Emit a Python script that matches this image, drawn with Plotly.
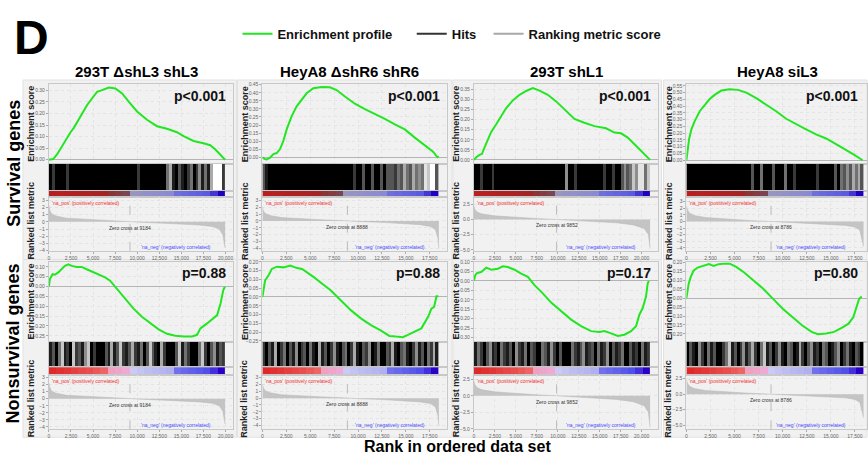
import plotly.graph_objects as go

W, H = 868, 459
FONT = "Liberation Sans"

# ---------------- data ----------------
col_titles = ["293T ΔshL3 shL3", "HeyA8 ΔshR6 shR6", "293T shL1", "HeyA8 siL3"]
row_titles = ["Survival genes", "Nonsurvival genes"]
n_genes = [19950, 18450, 21000, 18390]
zero_cross = [9184, 8888, 9852, 8786]
p_survival = ["p<0.001", "p<0.001", "p<0.001", "p<0.001"]
p_nonsurvival = ["p=0.88", "p=0.88", "p=0.17", "p=0.80"]
x_tick_vals = [0, 2500, 5000, 7500, 10000, 12500, 15000, 17500, 20000]
legend_names = ["Enrichment profile", "Hits", "Ranking metric score"]

# enrichment profiles, survival genes
es_x_s1 = [0, 490, 940, 1390, 1880, 2450, 2824, 3390, 3766, 4330, 4900, 5460, 6025, 6780, 7530, 8290, 9040, 9980,
           11110, 12240, 13370, 14500, 15250, 16380, 17510, 18270, 18830, 19400, 19950]
es_y_s1 = [0, 0.003, 0.024, 0.053, 0.081, 0.119, 0.138, 0.173, 0.202, 0.237, 0.266, 0.294, 0.301, 0.3125, 0.308,
           0.287, 0.251, 0.209, 0.173, 0.145, 0.134, 0.119, 0.102, 0.081, 0.071, 0.0625, 0.045, 0.020, 0.0]
es_x_s2 = [0, 209, 452, 800, 1148, 1496, 1844, 2192, 2540, 3062, 3583, 4105, 4627, 5323, 6193, 7063, 7758, 8628,
           9672, 10716, 11760, 12803, 13847, 14890, 15934, 16977, 17847, 18300, 18450]
es_y_s2 = [0, -0.010, -0.014, -0.002, 0.020, 0.026, 0.051, 0.102, 0.173, 0.255, 0.316, 0.356, 0.397, 0.428, 0.436,
           0.434, 0.417, 0.377, 0.332, 0.299, 0.271, 0.238, 0.204, 0.173, 0.122, 0.075, 0.035, 0.0, 0.006]
es_x_s3 = [0, 278, 675, 952, 1270, 1667, 2063, 2659, 3254, 3849, 4643, 5436, 6230, 7023, 7817, 8809, 9801, 10793,
           11984, 13174, 14365, 15753, 16745, 17539, 18333, 19325, 20317, 21000]
es_y_s3 = [0, 0.013, 0.025, 0.029, 0.062, 0.103, 0.139, 0.177, 0.221, 0.258, 0.296, 0.324, 0.343, 0.357, 0.345,
           0.324, 0.291, 0.250, 0.204, 0.185, 0.168, 0.157, 0.136, 0.132, 0.111, 0.070, 0.029, 0.0]
es_x_s4 = [0, 104, 276, 518, 863, 1381, 1899, 2416, 2934, 3625, 4488, 5351, 6214, 7249, 8285, 9320, 10356, 11392,
           12427, 13463, 14498, 15534, 16570, 17433, 18300]
es_y_s4 = [0, 0.058, 0.156, 0.229, 0.290, 0.363, 0.411, 0.453, 0.484, 0.516, 0.526, 0.521, 0.501, 0.460, 0.411,
           0.363, 0.307, 0.265, 0.229, 0.192, 0.161, 0.119, 0.078, 0.039, 0.0]

# enrichment profiles, nonsurvival genes
es_x_n1 = [0, 114, 417, 682, 1060, 1439, 1818, 2197, 2576, 3144, 3712, 4280, 5038, 5795, 6364, 6932, 7690, 8637,
           9584, 10531, 11478, 12425, 13371, 14318, 15265, 16212, 16780, 17159, 17917, 18485, 19053, 19432, 19735,
           19924]
es_y_n1 = [0, 0.038, 0.063, 0.060, 0.072, 0.088, 0.105, 0.113, 0.105, 0.100, 0.100, 0.088, 0.072, 0.055, 0.047,
           0.030, -0.012, -0.062, -0.112, -0.153, -0.187, -0.217, -0.240, -0.250, -0.253, -0.253, -0.245, -0.212,
           -0.187, -0.167, -0.145, -0.087, -0.020, 0.0]
es_x_n2 = [0, 105, 281, 632, 984, 1511, 2214, 2917, 3620, 4147, 4674, 5377, 6255, 7134, 8188, 9242, 10296, 11351,
           12405, 13283, 13986, 14689, 15216, 15919, 16622, 17324, 17676, 17957, 18203, 18400]
es_y_n2 = [0, 0.047, 0.094, 0.122, 0.160, 0.173, 0.169, 0.179, 0.165, 0.160, 0.141, 0.113, 0.075, 0.038, -0.019,
           -0.075, -0.122, -0.160, -0.192, -0.222, -0.226, -0.229, -0.216, -0.197, -0.179, -0.113, -0.066, -0.056,
           0.004, 0.004]
es_x_n3 = [0, 159, 397, 873, 1468, 2063, 2857, 3452, 4047, 4841, 5635, 6428, 7222, 8214, 9206, 10396, 11587, 12777,
           13967, 14959, 15554, 16348, 17142, 17936, 18730, 19325, 19721, 20118, 20515, 20713, 20850]
es_y_n3 = [0, 0.030, 0.042, 0.047, 0.070, 0.059, 0.064, 0.077, 0.073, 0.059, 0.038, 0.021, -0.023, -0.066, -0.115,
           -0.162, -0.205, -0.240, -0.266, -0.271, -0.266, -0.278, -0.292, -0.285, -0.266, -0.240, -0.179, -0.144,
           -0.083, -0.014, 0.0]
es_x_n4 = [0, 100, 233, 433, 733, 1167, 1667, 2333, 2833, 3333, 4000, 4500, 5167, 6000, 7000, 8000, 9000, 10000,
           11000, 12000, 13000, 13667, 14500, 15333, 16167, 16833, 17333, 17667, 17933, 18200]
es_y_n4 = [0, 0.043, 0.080, 0.117, 0.154, 0.172, 0.181, 0.191, 0.181, 0.191, 0.194, 0.194, 0.176, 0.144, 0.098,
           0.052, -0.004, -0.059, -0.106, -0.152, -0.189, -0.202, -0.198, -0.189, -0.165, -0.143, -0.106, -0.050,
           -0.004, 0.009]

# ranked list metric (per data set, shared by both gene sets)
metric_x_1 = [0, 100, 300, 800, 2000, 4000, 6000, 8000, 9184, 11000, 13000, 15000, 17000, 18500, 19300, 19700, 19800, 19950]
metric_y_1 = [2.3, 1.6, 1.1, 0.8, 0.5, 0.35, 0.22, 0.1, 0, -0.1, -0.2, -0.3, -0.45, -0.65, -1.0, -1.8, -2.4, -3.6]
metric_x_2 = [0, 100, 300, 800, 2000, 4000, 6000, 8000, 8888, 10500, 12500, 14500, 16500, 17600, 18100, 18350, 18450]
metric_y_2 = [2.1, 1.5, 1.1, 0.8, 0.5, 0.3, 0.2, 0.08, 0, -0.1, -0.2, -0.35, -0.55, -0.8, -1.3, -2.5, -4.0]
metric_x_3 = [0, 100, 400, 1000, 2500, 5000, 7500, 9852, 12000, 14500, 17000, 19000, 20300, 20800, 21000]
metric_y_3 = [2.2, 1.7, 1.2, 0.9, 0.6, 0.35, 0.15, 0, -0.15, -0.3, -0.55, -0.9, -1.5, -2.5, -4.8]
metric_x_4 = [0, 100, 300, 800, 2000, 4000, 6500, 8786, 10500, 12500, 14500, 16500, 17500, 18000, 18390]
metric_y_4 = [2.4, 1.8, 1.3, 0.9, 0.6, 0.35, 0.15, 0, -0.12, -0.25, -0.4, -0.6, -0.85, -1.3, -3.8]

# hit density per rank bin (0 = no hit, 9 = solid hits), 60 bins along the ranked list
hits_s1 = [9, 7, 9, 9, 9, 9, 7, 9, 9, 9, 9, 9, 9, 9, 9, 9, 9, 9, 9, 9, 9, 9, 9, 9, 9, 9, 9, 9, 9, 9,
           7, 9, 9, 9, 9, 9, 9, 9, 9, 9, 5, 3, 8, 9, 6, 8, 9, 7, 5, 9, 7, 4, 8, 5, 8, 3, 0, 0, 0, 7]
hits_s2 = [6, 8, 9, 9, 9, 9, 9, 9, 9, 9, 9, 9, 9, 9, 9, 9, 9, 9, 9, 9, 9, 9, 9, 9, 9, 9, 9, 9, 9, 9,
           9, 7, 9, 9, 6, 9, 9, 6, 9, 9, 6, 9, 6, 6, 6, 7, 5, 6, 3, 5, 6, 3, 5, 4, 5, 1, 2, 0, 0, 6]
hits_s3 = [9, 9, 7, 9, 9, 9, 7, 9, 9, 9, 9, 9, 9, 9, 9, 9, 9, 9, 9, 9, 9, 9, 9, 9, 9, 9, 9, 9, 9, 9,
           9, 4, 9, 9, 7, 9, 9, 9, 9, 9, 9, 9, 9, 9, 7, 9, 9, 7, 9, 9, 6, 4, 6, 5, 2, 4, 1, 1, 5, 2]
hits_s4 = [9, 9, 9, 9, 9, 9, 9, 9, 9, 9, 9, 9, 9, 9, 9, 9, 9, 9, 9, 9, 9, 9, 6, 9, 9, 5, 9, 9, 9, 6,
           9, 9, 9, 5, 9, 9, 7, 9, 9, 9, 9, 9, 9, 9, 7, 9, 9, 9, 9, 9, 6, 9, 5, 6, 4, 6, 3, 5, 3, 6]
hits_n1 = [8, 6, 9, 5, 2, 8, 7, 9, 2, 7, 6, 8, 4, 2, 9, 7, 9, 9, 9, 6, 8, 3, 8, 6, 2, 7, 8, 6, 3, 7,
           8, 5, 9, 6, 2, 6, 8, 9, 3, 7, 9, 9, 9, 6, 2, 8, 5, 7, 9, 9, 9, 5, 2, 7, 9, 6, 4, 8, 6, 7]
hits_n2 = [7, 9, 6, 8, 3, 9, 7, 5, 9, 6, 8, 4, 9, 7, 6, 9, 5, 8, 9, 3, 8, 6, 9, 7, 4, 8, 9, 6, 5, 9,
           7, 3, 8, 9, 6, 7, 4, 9, 8, 5, 9, 9, 6, 7, 3, 8, 9, 6, 5, 8, 9, 7, 4, 8, 6, 9, 5, 7, 3, 8]
hits_n3 = [8, 5, 7, 9, 6, 4, 8, 7, 9, 5, 7, 8, 6, 9, 4, 7, 8, 5, 9, 6, 7, 9, 9, 5, 6, 8, 4, 7, 9, 6,
           9, 9, 9, 5, 7, 8, 6, 4, 8, 7, 6, 9, 5, 8, 7, 4, 9, 6, 8, 7, 5, 9, 9, 6, 8, 7, 9, 5, 8, 7]
hits_n4 = [9, 6, 8, 9, 4, 7, 9, 5, 8, 6, 9, 9, 7, 5, 2, 8, 6, 9, 7, 4, 8, 6, 3, 7, 9, 5, 2, 8, 6, 9,
           7, 4, 8, 9, 5, 6, 9, 8, 3, 7, 9, 6, 4, 8, 7, 9, 5, 6, 9, 8, 6, 4, 9, 7, 5, 8, 9, 6, 7, 9]

# correlation colour band levels along the ranked list (+1 = positive/red, -1 = negative/blue)
band_levels = [1.0, 0.97, 0.94, 0.9, 0.87, 0.84, 0.8, 0.75, 0.45, 0.4, 0.35, -0.2, -0.25, -0.3, -0.33, -0.36,
               -0.4, -0.6, -0.65, -0.7, -0.75, -0.8, -0.88, -1.0]

es_x = [es_x_s1, es_x_s2, es_x_s3, es_x_s4, es_x_n1, es_x_n2, es_x_n3, es_x_n4]
es_y = [es_y_s1, es_y_s2, es_y_s3, es_y_s4, es_y_n1, es_y_n2, es_y_n3, es_y_n4]
metric_x = [metric_x_1, metric_x_2, metric_x_3, metric_x_4]
metric_y = [metric_y_1, metric_y_2, metric_y_3, metric_y_4]
hits = [hits_s1, hits_s2, hits_s3, hits_s4, hits_n1, hits_n2, hits_n3, hits_n4]

# ---------------- layout geometry (pixels) ----------------
col_px = [(48, 233), (262, 447), (474, 659), (687, 868)]
x_max = [20900, 19300, 22000, 18750]
row_px = [dict(es=(82, 163), hits=(163, 190), cbar=(190, 197), met=(197, 251)),
          dict(es=(262, 343), hits=(343, 369), cbar=(369, 377), met=(377, 432))]
es_range = [[-0.018, 0.328], [-0.041, 0.455], [-0.02, 0.378], [-0.027, 0.565],
            [-0.279, 0.127], [-0.254, 0.202], [-0.321, 0.102], [-0.243, 0.2055]]
met_range = [[-4.0, 3.37], [-4.39, 3.48], [-5.16, 3.64], [-4.45, 3.65],
             [-4.37, 3.38], [-4.58, 3.39], [-5.09, 3.14], [-5.7, 3.09]]
met_dtick = [1, 1, 2.5, 1, 1, 1, 2.5, 2.5]
panel_bg = [(22, 236), (237, 452), (453, 662), (664, 868)]
row_bg = [(78, 260), (260, 440)]

band_top = [[0, "#2000c0"], [0.1, "#5a5ae0"], [0.2, "#6e6edc"], [0.3, "#8a8ad0"], [0.4, "#9896c0"],
            [0.6, "#8a6878"], [0.675, "#7a4550"], [0.725, "#8a3535"], [0.85, "#a02525"], [1, "#b82020"]]
band_bottom = [[0, "#2a00c8"], [0.1, "#5050e8"], [0.2, "#7070ee"], [0.3, "#b0b0f0"], [0.4, "#cacaf4"],
               [0.6, "#e8c8e8"], [0.675, "#eeaad4"], [0.725, "#f0a0c0"], [0.85, "#f07070"], [1, "#e02828"]]


def fx(p):
    return p / W


def fy(p):
    return 1 - p / H


fig = go.Figure()
layout = {}
annotations = []
shapes = []

tickfont = dict(family=FONT, size=5, color="#666666")
GREEN = "#22e622"
NBSP = "\u00a0"

for r in range(2):
    for c in range(4):
        k = r * 4 + c
        N = n_genes[c]
        x0, x1 = col_px[c]
        rp = row_px[r]
        base = k * 4
        ids = [base + 1, base + 2, base + 3, base + 4]
        names = [("x" if i == 1 else f"x{i}", "y" if i == 1 else f"y{i}") for i in ids]
        keys = [("xaxis" if i == 1 else f"xaxis{i}", "yaxis" if i == 1 else f"yaxis{i}") for i in ids]
        xdom = [fx(x0), fx(x1)]
        frame = dict(showline=True, mirror=True, linecolor="#c8c8c8", linewidth=1)

        # ES axes
        layout[keys[0][0]] = dict(domain=xdom, anchor=names[0][1], range=[0, x_max[c]], showticklabels=False,
                                  tickvals=x_tick_vals, ticks="", showgrid=True, gridcolor="#e4e4e4",
                                  griddash="dot", zeroline=False, **frame)
        layout[keys[0][1]] = dict(domain=[fy(rp["es"][1]), fy(rp["es"][0])], anchor=names[0][0],
                                  range=es_range[k], dtick=0.05, tickformat=".2f", tickfont=tickfont,
                                  ticks="outside", ticklen=2, tickcolor="#aaaaaa", showgrid=True,
                                  gridcolor="#e4e4e4", griddash="dot", zeroline=True, zerolinecolor="#b4b4b4",
                                  zerolinewidth=1, **frame)
        # hits axes
        layout[keys[1][0]] = dict(domain=xdom, anchor=names[1][1], range=[0, x_max[c]], showticklabels=False,
                                  ticks="", showgrid=False, zeroline=False, **frame)
        layout[keys[1][1]] = dict(domain=[fy(rp["hits"][1]), fy(rp["hits"][0])], anchor=names[1][0],
                                  range=[-0.5, 0.5], showticklabels=False, ticks="", showgrid=False,
                                  zeroline=False, **frame)
        # colour band axes
        layout[keys[2][0]] = dict(domain=xdom, anchor=names[2][1], range=[0, x_max[c]], showticklabels=False,
                                  ticks="", showgrid=False, zeroline=False, **frame)
        layout[keys[2][1]] = dict(domain=[fy(rp["cbar"][1]), fy(rp["cbar"][0])], anchor=names[2][0],
                                  range=[-0.5, 0.5], showticklabels=False, ticks="", showgrid=False,
                                  zeroline=False, **frame)
        # metric axes
        layout[keys[3][0]] = dict(domain=xdom, anchor=names[3][1], range=[0, x_max[c]], tickvals=x_tick_vals,
                                  tickformat=",d", tickfont=tickfont, ticks="outside", ticklen=2,
                                  tickcolor="#aaaaaa", showgrid=True, gridcolor="#e4e4e4", griddash="dot",
                                  zeroline=False, **frame)
        layout[keys[3][1]] = dict(domain=[fy(rp["met"][1]), fy(rp["met"][0])], anchor=names[3][0],
                                  range=met_range[k], dtick=met_dtick[k],
                                  tickformat=".1f" if met_dtick[k] == 2.5 else "d", tickfont=tickfont,
                                  ticks="outside", ticklen=2, tickcolor="#aaaaaa", showgrid=True,
                                  gridcolor="#e4e4e4", griddash="dot", zeroline=False, **frame)

        # traces
        fig.add_trace(go.Scatter(x=es_x[k], y=es_y[k], mode="lines", line=dict(color=GREEN, width=2),
                                 name=legend_names[0] + NBSP * 4, showlegend=(k == 0), legendrank=1,
                                 xaxis=names[0][0], yaxis=names[0][1], hoverinfo="skip"))
        nb = len(hits[k])
        fig.add_trace(go.Heatmap(x=[N * (i + 0.5) / nb for i in range(nb)], y=[0], z=[hits[k]],
                                 zmin=0, zmax=9, colorscale=[[0, "#ffffff"], [1, "#000000"]], showscale=False,
                                 xaxis=names[1][0], yaxis=names[1][1], hoverinfo="skip"))
        nbb = len(band_levels)
        fig.add_trace(go.Heatmap(x=[N * (i + 0.5) / nbb for i in range(nbb)], y=[0], z=[band_levels],
                                 zmin=-1, zmax=1, colorscale=band_top if r == 0 else band_bottom,
                                 showscale=False, xaxis=names[2][0], yaxis=names[2][1], hoverinfo="skip"))
        fig.add_trace(go.Scatter(x=metric_x[c], y=metric_y[c], mode="lines", fill="tozeroy",
                                 fillcolor="#c4c4c4", line=dict(color="#b8b8b8", width=0.5),
                                 showlegend=False, xaxis=names[3][0], yaxis=names[3][1], hoverinfo="skip"))

        # zero-cross dashed line
        shapes.append(dict(type="line", xref=names[3][0], yref=f"{names[3][1]} domain",
                           x0=zero_cross[c], x1=zero_cross[c], y0=0, y1=1,
                           line=dict(color="#bbbbbb", width=1, dash="dash")))

        # texts inside the metric plot
        annotations.append(dict(text="'na_pos' (positively correlated)", xref="paper", yref="paper",
                                x=fx(x0 + 1), y=fy(rp["met"][0] + 0.5), xanchor="left", yanchor="top",
                                showarrow=False, font=dict(family=FONT, size=5, color="#ee3030")))
        annotations.append(dict(text=f"Zero cross at {zero_cross[c]}", xref=names[3][0], yref=names[3][1],
                                x=zero_cross[c], y=-0.15, xanchor="center", yanchor="top", showarrow=False,
                                font=dict(family=FONT, size=5, color="#333333")))
        annotations.append(dict(text="'na_neg' (negatively correlated)", xref="paper", yref="paper",
                                x=fx(x0 + 0.69 * (x1 - x0)), y=fy(rp["met"][1] - 4), xanchor="center",
                                yanchor="middle", showarrow=False,
                                font=dict(family=FONT, size=5, color="#4a4aff")))
        # p value
        annotations.append(dict(text=(p_survival if r == 0 else p_nonsurvival)[c], xref="paper", yref="paper",
                                x=fx(min(x1, 866) - 5), y=fy(rp["es"][0] + 12), xanchor="right",
                                yanchor="middle", showarrow=False,
                                font=dict(family=FONT, size=14, color="#111111", weight="bold")))
        # axis titles
        annotations.append(dict(text="Enrichment score", xref="paper", yref="paper", x=fx(x0 - 18),
                                y=fy((rp["es"][0] + rp["es"][1]) / 2), textangle=-90, xanchor="center",
                                yanchor="middle", showarrow=False,
                                font=dict(family=FONT, size=9, color="#222222", weight="bold")))
        annotations.append(dict(text="Ranked list metric", xref="paper", yref="paper", x=fx(x0 - 18),
                                y=fy((rp["cbar"][0] + rp["met"][1]) / 2), textangle=-90, xanchor="center",
                                yanchor="middle", showarrow=False,
                                font=dict(family=FONT, size=9, color="#222222", weight="bold")))

        # panel background
        shapes.append(dict(type="rect", xref="paper", yref="paper", layer="below",
                           x0=fx(panel_bg[c][0]), x1=fx(panel_bg[c][1]),
                           y0=fy(row_bg[r][1]), y1=fy(row_bg[r][0]),
                           fillcolor="#f1f1f1", line=dict(color="#e2e2e2", width=1)))

# legend-only traces
fig.add_trace(go.Scatter(x=[None], y=[None], mode="lines", line=dict(color="#333333", width=2),
                         name=legend_names[1] + NBSP * 2, legendrank=2, xaxis="x", yaxis="y"))
fig.add_trace(go.Scatter(x=[None], y=[None], mode="lines", line=dict(color="#a8a8a8", width=2),
                         name=legend_names[2], legendrank=3, xaxis="x", yaxis="y"))

# headers
annotations.append(dict(text="D", xref="paper", yref="paper", x=fx(31), y=fy(35), xanchor="center",
                        yanchor="middle", showarrow=False, font=dict(family=FONT, size=48, color="#000000",
                                                                     weight="bold")))
col_centers = [136, 349, 567, 778]
for c in range(4):
    annotations.append(dict(text=col_titles[c], xref="paper", yref="paper", x=fx(col_centers[c]), y=fy(69),
                            xanchor="center", yanchor="middle", showarrow=False,
                            font=dict(family=FONT, size=15, color="#000000", weight="bold")))
row_centers = [162, 345]
for r in range(2):
    annotations.append(dict(text=row_titles[r], xref="paper", yref="paper", x=fx(13), y=fy(row_centers[r]),
                            textangle=-90, xanchor="center", yanchor="middle", showarrow=False,
                            font=dict(family=FONT, size=18, color="#000000", weight="bold")))
annotations.append(dict(text="Rank in ordered data set", xref="paper", yref="paper", x=fx(458), y=fy(449),
                        xanchor="center", yanchor="middle", showarrow=False,
                        font=dict(family=FONT, size=16, color="#000000", weight="bold")))

fig.update_layout(
    width=W, height=H, margin=dict(l=0, r=0, t=0, b=0, pad=0),
    paper_bgcolor="#ffffff", plot_bgcolor="#ffffff",
    font=dict(family=FONT),
    showlegend=True,
    legend=dict(orientation="h", x=fx(237), y=fy(16), xanchor="left", yanchor="top",
                font=dict(family=FONT, size=13, color="#111111", weight="bold"),
                bgcolor="rgba(0,0,0,0)", itemwidth=30, traceorder="normal"),
    annotations=annotations, shapes=shapes,
    **layout,
)

fig.write_html("out.html")
